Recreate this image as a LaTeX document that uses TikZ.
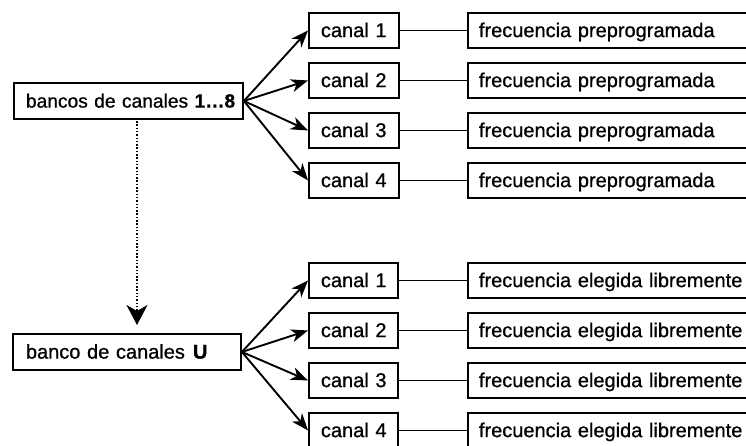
\documentclass[tikz,border=0pt]{standalone}
\usepackage{fontspec}
\setmainfont{Liberation Sans}[FakeBold=0.8]
\usetikzlibrary{arrows.meta}
\begin{document}
\begin{tikzpicture}[x=1pt,y=-1pt,
  box/.style={draw, line width=1.9pt, anchor=north west, inner ysep=0pt,
    minimum height=35pt, text height=14.3pt, text depth=1pt, align=left,
    font=\fontsize{20}{22}\selectfont},
  arr/.style={line width=1.9pt, -{Stealth[length=17pt,width=13pt,inset=5pt]}},
  link/.style={line width=1.8pt},
  dotarr/.style={line width=1.8pt, dash pattern=on 1.5pt off 1.8pt,
    -{Stealth[length=20pt,width=21pt,inset=6pt]}, shorten >=8pt}
]
\useasboundingbox (0,0) rectangle (746,445);
\clip (0,0) rectangle (746,445);

% top group
\node[box, inner xsep=12pt, text width=205pt, minimum height=36pt, font=\fontsize{19.2}{22}\selectfont] (b) at (13,82) {\mbox{bancos de canales \textbf{1…8}}};
\node[box, inner xsep=12pt, text width=66pt] (c1) at (308,12) {\mbox{canal 1}};
\node[box, inner xsep=12pt, text width=66pt] (c2) at (308,62) {\mbox{canal 2}};
\node[box, inner xsep=12pt, text width=66pt] (c3) at (308,112) {\mbox{canal 3}};
\node[box, inner xsep=12pt, text width=66pt] (c4) at (308,162) {\mbox{canal 4}};
\node[box, inner xsep=11pt, text width=281pt] (f1) at (467,12) {\mbox{frecuencia preprogramada}};
\node[box, inner xsep=11pt, text width=281pt] (f2) at (467,62) {\mbox{frecuencia preprogramada}};
\node[box, inner xsep=11pt, text width=281pt] (f3) at (467,112) {\mbox{frecuencia preprogramada}};
\node[box, inner xsep=11pt, text width=281pt] (f4) at (467,162) {\mbox{frecuencia preprogramada}};

% bottom group
\node[box, inner xsep=13pt, text width=202pt, minimum height=36pt] (u) at (12,333) {\mbox{banco de canales\hspace{8pt}\textbf{U}}};
\node[box, inner xsep=12pt, text width=65pt] (d1) at (308,262) {\mbox{canal 1}};
\node[box, inner xsep=12pt, text width=65pt] (d2) at (308,312) {\mbox{canal 2}};
\node[box, inner xsep=12pt, text width=65pt] (d3) at (308,362) {\mbox{canal 3}};
\node[box, inner xsep=12pt, text width=65pt] (d4) at (308,412) {\mbox{canal 4}};
\node[box, inner xsep=11pt, text width=281pt] (g1) at (467,262) {\mbox{frecuencia elegida libremente}};
\node[box, inner xsep=11pt, text width=281pt] (g2) at (467,312) {\mbox{frecuencia elegida libremente}};
\node[box, inner xsep=11pt, text width=281pt] (g3) at (467,362) {\mbox{frecuencia elegida libremente}};
\node[box, inner xsep=11pt, text width=281pt] (g4) at (467,412) {\mbox{frecuencia elegida libremente}};

% arrows
\foreach \c in {c1,c2,c3,c4} \draw[arr] (b.east) -- (\c.west);
\foreach \c in {d1,d2,d3,d4} \draw[arr] (u.east) -- (\c.west);

% links
\draw[link] (c1.east) -- (f1.west);
\draw[link] (c2.east) -- (f2.west);
\draw[link] (c3.east) -- (f3.west);
\draw[link] (c4.east) -- (f4.west);
\draw[link] (d1.east) -- (g1.west);
\draw[link] (d2.east) -- (g2.west);
\draw[link] (d3.east) -- (g3.west);
\draw[link] (d4.east) -- (g4.west);

% dotted arrow
\coordinate (ds) at (137,121);
\draw[dotarr] (ds) -- (ds |- u.north);
\end{tikzpicture}
\end{document}
